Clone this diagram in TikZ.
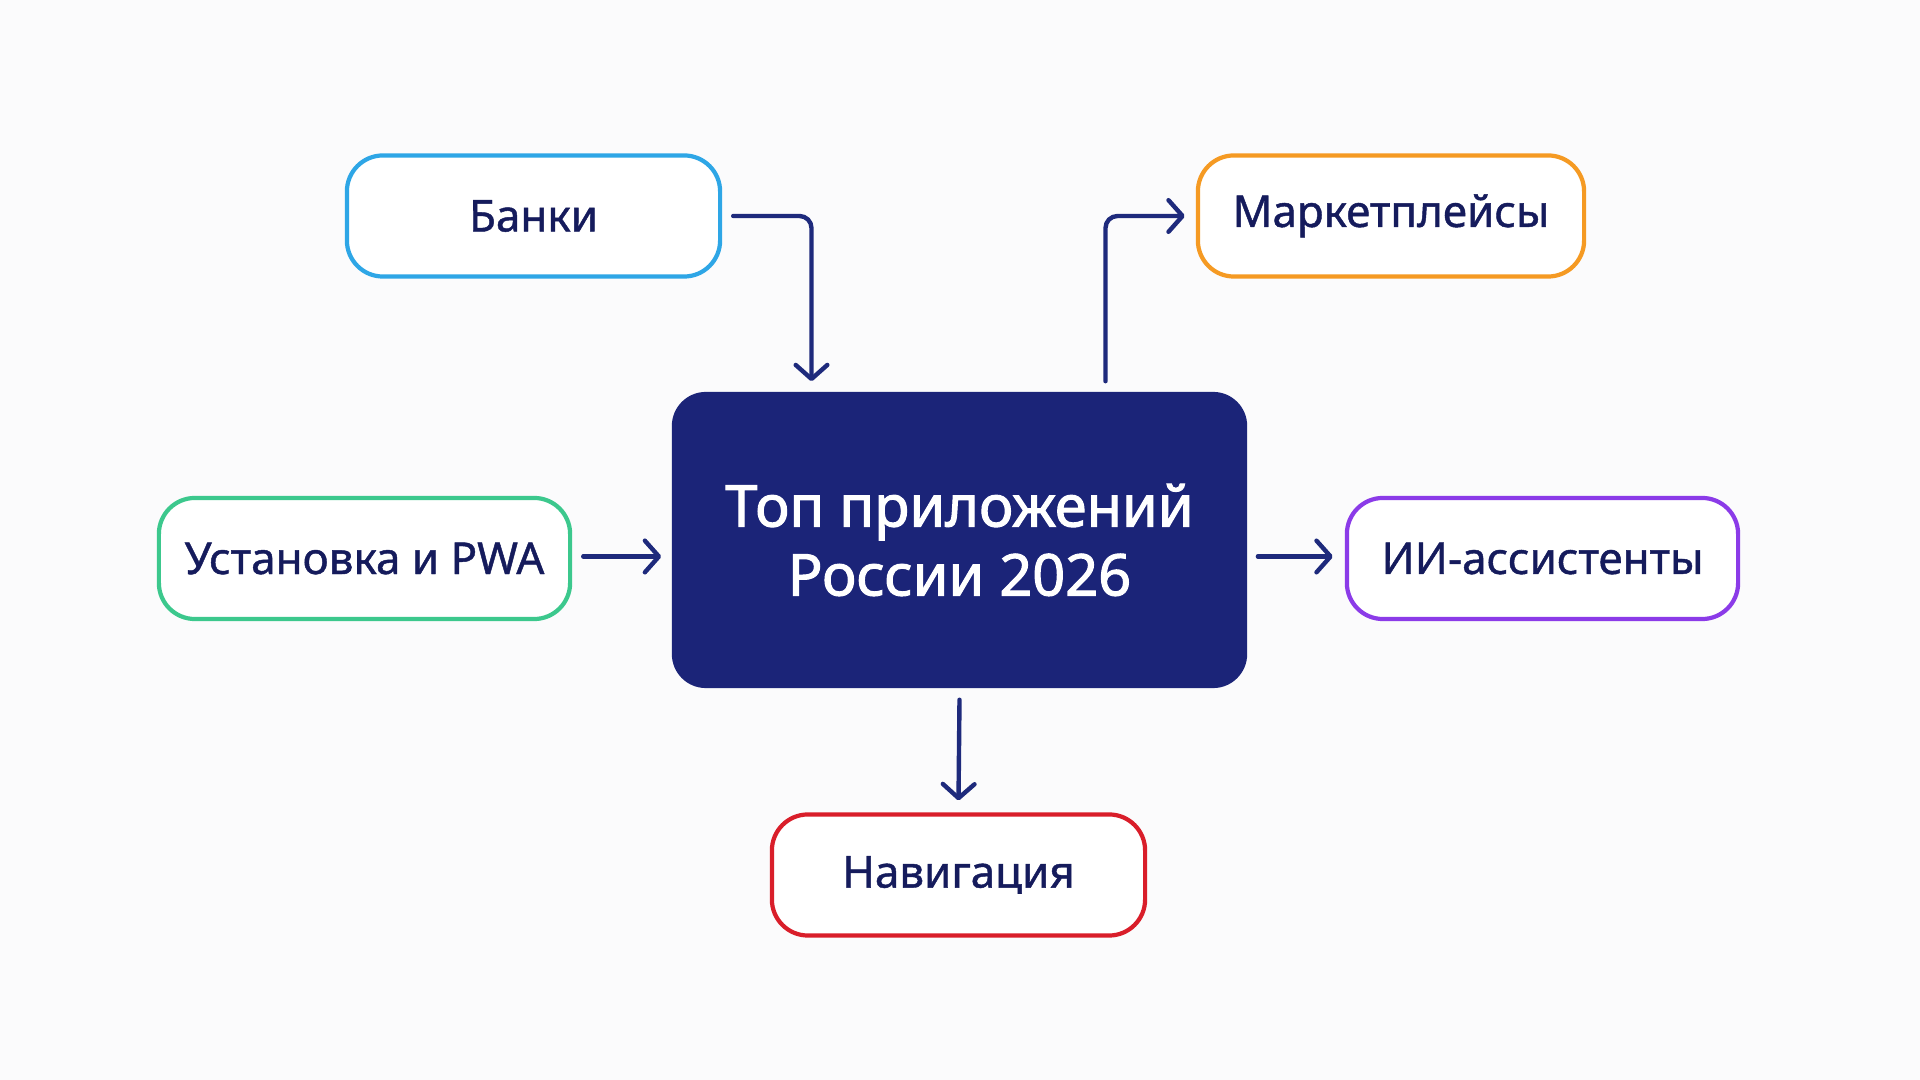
\documentclass[tikz,border=0pt]{standalone}
\usepackage{fontspec}
\setmainfont{Noto Sans}[FakeBold=1.0]
\newfontfamily\titlefont{Noto Sans}[FakeBold=1.8]
\usetikzlibrary{arrows.meta,calc}
\definecolor{bg}{HTML}{FBFBFC}
\definecolor{navy}{HTML}{1B2478}
\definecolor{txt}{HTML}{151B5C}
\definecolor{arrowc}{HTML}{1E2A7C}
\definecolor{cblue}{HTML}{2EA6E6}
\definecolor{corange}{HTML}{F59A23}
\definecolor{cgreen}{HTML}{3CC88D}
\definecolor{cpurple}{HTML}{8B3BE8}
\definecolor{cred}{HTML}{D91E2A}
\tikzset{
  leaf/.style={rectangle, rounded corners=0.36cm, line width=1.2pt, fill=white,
    minimum height=1.21cm, inner sep=0pt, text=txt, font=\fontsize{12.5}{15}\selectfont},
  hub/.style={rectangle, rounded corners=0.34cm, fill=navy, text=white,
    minimum width=5.75cm, minimum height=2.96cm, inner sep=0pt, align=center,
    font=\titlefont\fontsize{16.4}{19.6}\selectfont},
  arr/.style={draw=arrowc, line width=1.25pt, line cap=round, line join=round,
    rounded corners=0.12cm, -{Straight Barb[length=4pt, width=9pt, line cap=round, line join=round]}}
}
\begin{document}
\begin{tikzpicture}[x=0.01cm, y=-0.01cm]
\fill[bg] (0,0) rectangle (1920,1080);
\useasboundingbox (0,0) rectangle (1920,1080);

\node[hub] (center) at (959.5,540) {Топ приложений\\России 2026};
\node[leaf, draw=cblue, minimum width=3.73cm] (banki) at (533.5,216) {Банки};
\node[leaf, draw=corange, minimum width=3.86cm] (markets) at (1391,216) {Маркетплейсы};
\node[leaf, draw=cgreen, minimum width=4.11cm] (ust) at (364.5,558.5) {Установка и PWA};
\node[leaf, draw=cpurple, minimum width=3.91cm] (ai) at (1542.5,558.5) {ИИ-ассистенты};
\node[leaf, draw=cred, minimum width=3.73cm] (nav) at (958.5,875) {Навигация};

\draw[arr] ($(banki.east)+(11,0)$) -| ($(center.north)+(-148,-10)$);
\draw[arr] ($(center.north)+(146,-10)$) |- ($(markets.west)+(-11,0)$);
\draw[arr] ($(ust.east)+(11,-2)$) -- ($(ust.east -| center.west)+(-10,-2)$);
\draw[arr] ($(ai.west -| center.east)+(10,-2)$) -- ($(ai.west)+(-12,-2)$);
\draw[arr] ($(center.south)+(0,11)$) -- ($(nav.north)+(0,-12)$);
\end{tikzpicture}
\end{document}
